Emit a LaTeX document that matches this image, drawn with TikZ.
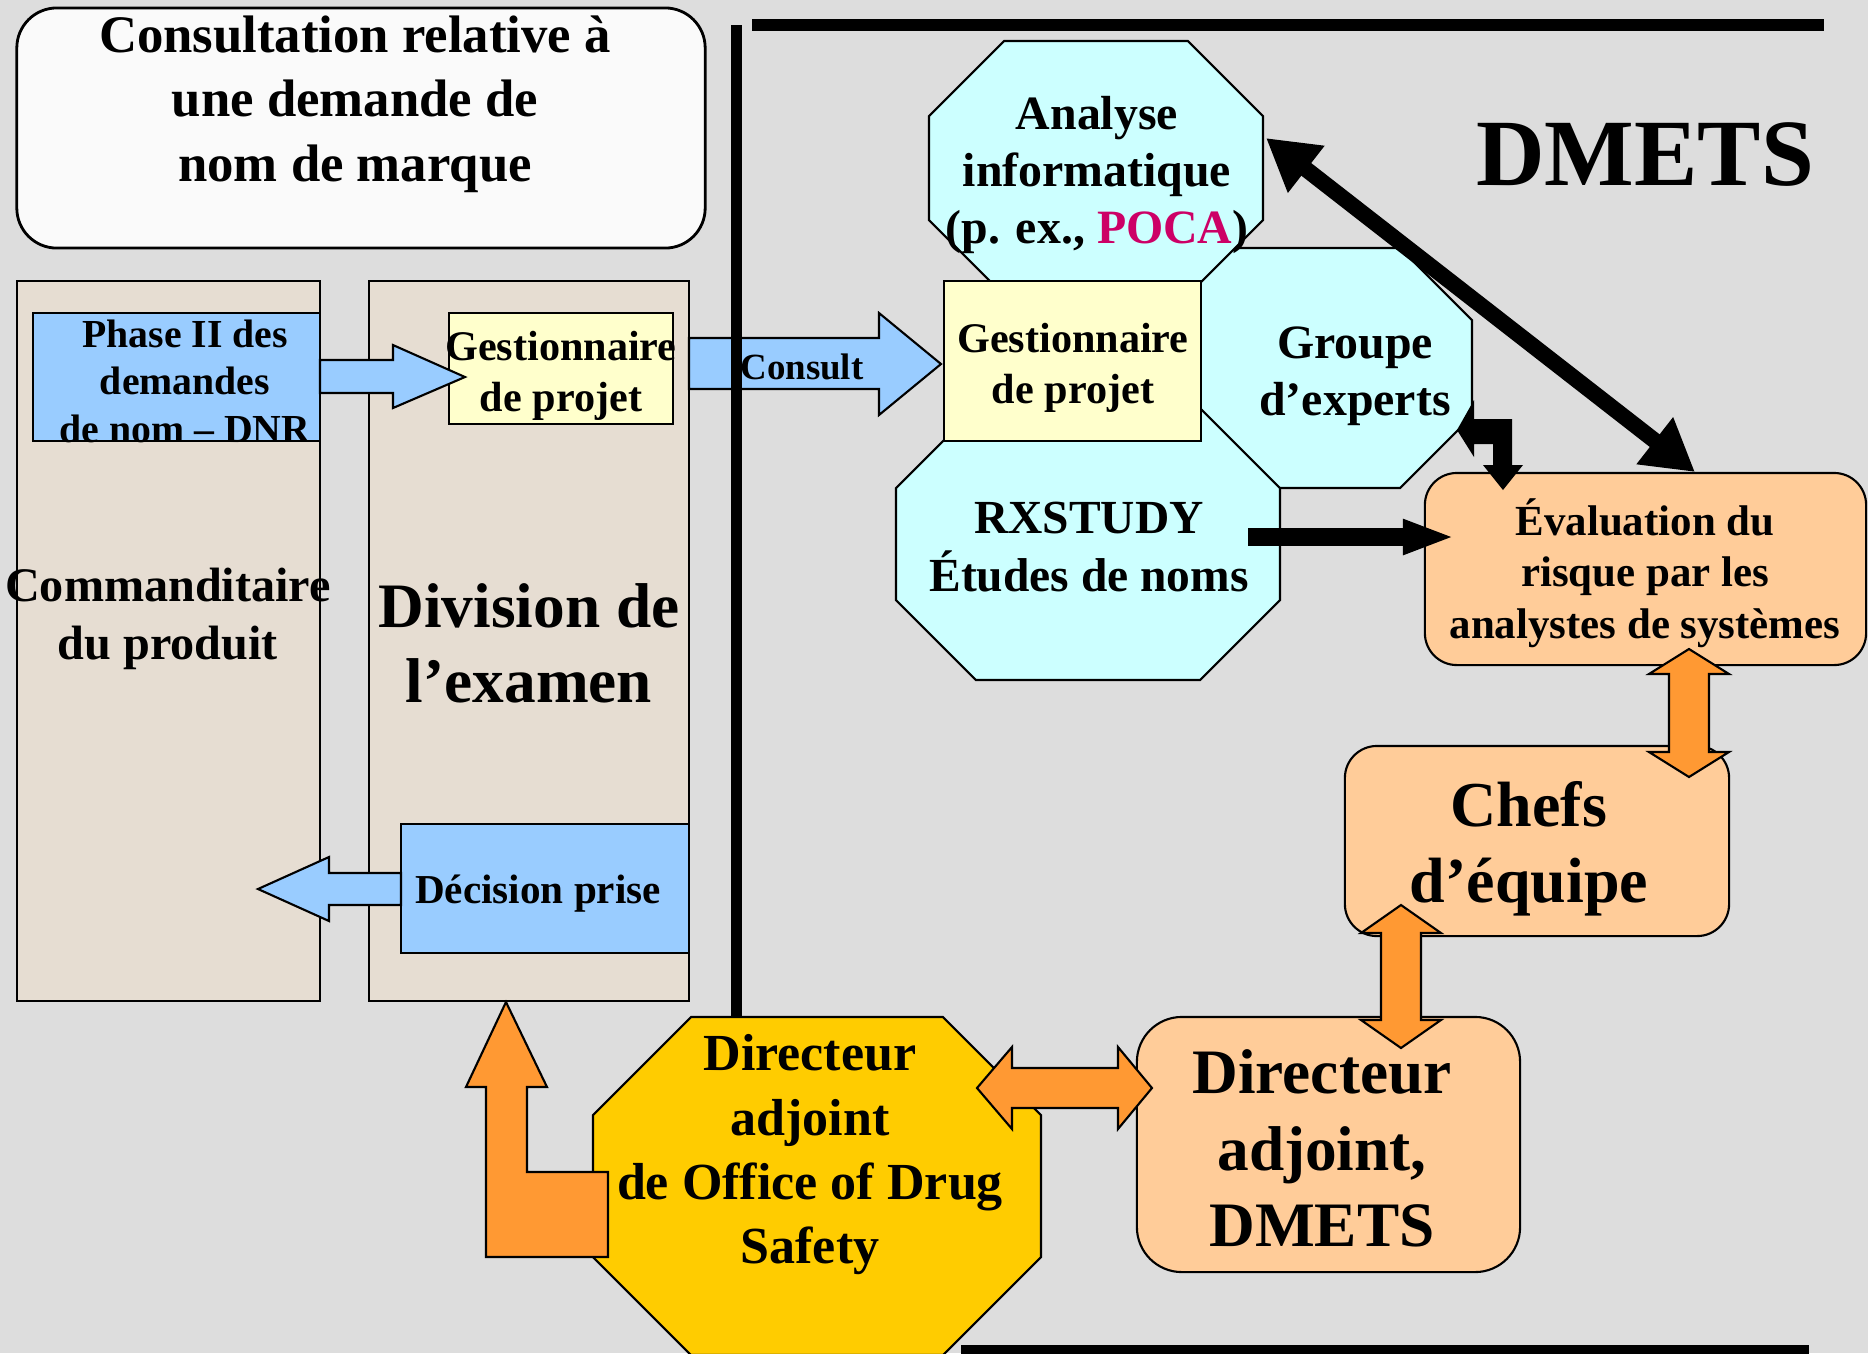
\documentclass[tikz,border=0pt]{standalone}
\usepackage{fontspec}
\setmainfont{Liberation Serif}
\usetikzlibrary{arrows.meta}
\definecolor{bggray}{HTML}{DDDDDD}
\definecolor{paper}{HTML}{E6DDD2}
\definecolor{skyblue}{HTML}{99CCFF}
\definecolor{paleyellow}{HTML}{FFFFCC}
\definecolor{palecyan}{HTML}{CCFFFF}
\definecolor{peach}{HTML}{FFCC99}
\definecolor{deeporange}{HTML}{FF9933}
\definecolor{gold}{HTML}{FFCC00}
\definecolor{poca}{HTML}{CC0066}
% octagon: fill, x1, y1, x2, y2, cut
\newcommand{\octbox}[6]{%
  \filldraw[#1,draw=black,line width=0.6pt] (#2+#6,#3) -- (#4-#6,#3) -- (#4,#3+#6) -- (#4,#5-#6)
    -- (#4-#6,#5) -- (#2+#6,#5) -- (#2,#5-#6) -- (#2,#3+#6) -- cycle;}
\tikzset{
  txt/.style 2 args={align=center,inner sep=0pt,font=\bfseries\fontsize{#1}{#2}\selectfont},
  plainbox/.style={draw=black,line width=0.6pt,inner sep=0pt},
  column/.style={plainbox,fill=paper},
  bluebox/.style={plainbox,fill=skyblue},
  yellowbox/.style={plainbox,fill=paleyellow},
  peachbox/.style={plainbox,fill=peach,rounded corners=0.32cm},
  bluearrow/.style={fill=skyblue,draw=black,line width=0.6pt},
  orangearrow/.style={fill=deeporange,draw=black,line width=0.6pt},
  rule/.style={line width=0.11cm},
}
\begin{document}
\begin{tikzpicture}[x=0.01cm,y=-0.01cm]
\useasboundingbox (0,0) rectangle (1868,1353);
\fill[bggray] (0,0) rectangle (1868,1353);
%title
\node[plainbox,fill=white!98!black,line width=0.8pt,rounded corners=0.4cm,minimum width=6.88cm,minimum height=2.40cm] (titlebox) at (361,128) {};
\node[txt={15}{18.3}] (titletxt) at (355,104) {Consultation relative à\\une demande de\\nom de marque};
%columns
\node[column,minimum width=3.03cm,minimum height=7.20cm] (sponsor) at (168.5,641) {};
\node[column,minimum width=3.20cm,minimum height=7.20cm] (division) at (529,641) {};
\node[txt={13.7}{16.3}] (sponsortxt) at (168,619) {Commanditaire\\du produit};
\node[txt={18}{21.4}] (divisiontxt) at (529,643) {Division de\\l’examen};
\node[bluebox,minimum width=2.87cm,minimum height=1.28cm] (phase) at (176.5,377) {};
\node[txt={11.3}{13.5}] (phasetxt) at (185,381) {Phase II des\\demandes\\de nom – DNR};
\node[yellowbox,minimum width=2.24cm,minimum height=1.11cm] (pmleft) at (561,368.5) {};
\node[txt={12}{14.6}] (pmlefttxt) at (561,376) {Gestionnaire\\de projet};
\node[bluebox,minimum width=2.88cm,minimum height=1.29cm] (decision) at (545,888.5) {};
\node[txt={11.7}{14}] (decisiontxt) at (538,894) {Décision prise};
%blue arrows
\filldraw[bluearrow] (320,360) -- (393,360) -- (393,345) -- (465,377) -- (393,408) -- (393,393) -- (320,393) -- cycle;
\filldraw[bluearrow] (401,873) -- (329,873) -- (329,857) -- (258,889) -- (329,921) -- (329,905) -- (401,905) -- cycle;
\filldraw[bluearrow] (689,338) -- (879,338) -- (879,313) -- (941,364) -- (879,415) -- (879,389) -- (689,389) -- cycle;
\node[txt={10.5}{12}] (consult) at (802,367) {Consult};
%rules
\draw[rule] (736.5,25) -- (736.5,1017);
\draw[line width=0.12cm] (752,25) -- (1824,25);
\draw[line width=0.10cm] (961,1350) -- (1809,1350);
\node[txt={27}{30}] (dmets) at (1645,155) {DMETS};
%octagons
\octbox{palecyan}{1130}{248}{1472}{488}{72}
\octbox{palecyan}{929}{41}{1263}{295}{75}
\octbox{palecyan}{896}{408}{1280}{680}{80}
\node[txt={13.6}{16.3}] (experts) at (1355,376) {Groupe\\d’experts};
\node[txt={13.6}{16.1}] (analyse) at (1097,175) {Analyse\\informatique\\(p. ex., \textcolor{poca}{POCA})};
\node[txt={13.5}{16.3}] (rxstudy) at (1089,547) {RXSTUDY\\Études de noms};
\node[yellowbox,minimum width=2.57cm,minimum height=1.60cm] (pmright) at (1072.5,361) {};
\node[txt={12}{14.6}] (pmrighttxt) at (1073,368) {Gestionnaire\\de projet};
%dmets boxes
\node[peachbox,minimum width=4.41cm,minimum height=1.92cm] (risk) at (1645.5,569) {};
\node[txt={12.2}{14.7}] (risktxt) at (1645,573) {Évaluation du\\risque par les\\analystes de systèmes};
\node[peachbox,minimum width=3.84cm,minimum height=1.90cm] (chefs) at (1537,841) {};
\node[txt={18.2}{21.7}] (chefstxt) at (1529,849) {Chefs\\d’équipe};
\node[peachbox,rounded corners=0.45cm,minimum width=3.83cm,minimum height=2.55cm] (deputy) at (1328.5,1144.5) {};
\node[txt={18}{21.7}] (deputytxt) at (1322,1148.5) {Directeur\\adjoint,\\DMETS};
%black arrows
\coordinate (analyseE) at (1266,138);
\coordinate (riskN) at (1695,472);
\coordinate (rxstudyE) at (1248,537);
\coordinate (riskW) at (1455,537);
\draw[line width=0.16cm,{Triangle[length=5.1mm,width=5.6mm]}-{Triangle[length=5.1mm,width=5.6mm]}] (analyseE) -- (riskN);
\draw[line width=0.18cm,-{Triangle[length=5.2mm,width=3.2mm]}] (rxstudyE) -- (riskW);
\fill (1457,430) -- (1474,400) -- (1474,419) -- (1512,419) -- (1512,465) -- (1523,465) -- (1503,490)
  -- (1483,465) -- (1493,465) -- (1493,444) -- (1474,444) -- (1474,457) -- cycle;
%orange arrows
\filldraw[orangearrow] (1669,674) -- (1649,674) -- (1689,649) -- (1729,674) -- (1709,674) -- (1709,752)
  -- (1729,752) -- (1689,777) -- (1649,752) -- (1669,752) -- cycle;
\filldraw[orangearrow] (1381,933) -- (1361,933) -- (1401,905) -- (1441,933) -- (1421,933) -- (1421,1020)
  -- (1441,1020) -- (1401,1048) -- (1361,1020) -- (1381,1020) -- cycle;
\octbox{gold}{593}{1017}{1041}{1355}{98}
\node[txt={14.8}{18.3}] (ods) at (810,1155) {Directeur\\adjoint\\de Office of Drug\\Safety};
\filldraw[orangearrow] (1012,1068) -- (1012,1047) -- (977,1088) -- (1012,1129) -- (1012,1108) -- (1118,1108)
  -- (1118,1129) -- (1152,1088) -- (1118,1047) -- (1118,1068) -- cycle;
\filldraw[orangearrow] (486,1257) -- (486,1087) -- (466,1087) -- (506,1002) -- (547,1087) -- (527,1087)
  -- (527,1172) -- (608,1172) -- (608,1257) -- cycle;
\end{tikzpicture}
\end{document}
